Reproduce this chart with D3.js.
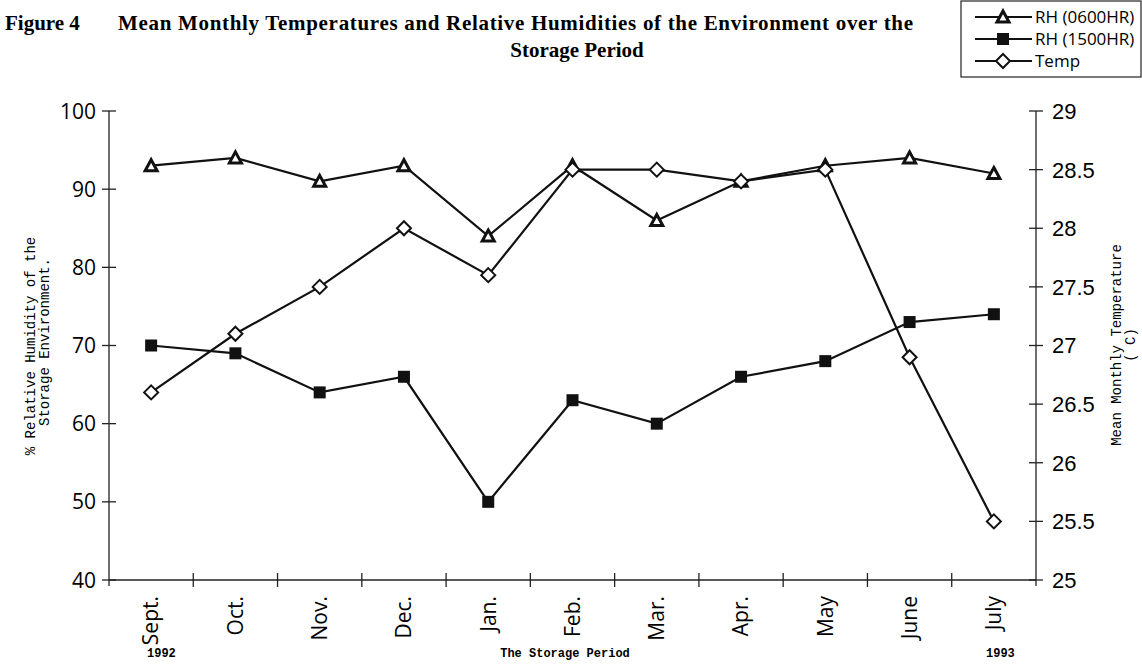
<!DOCTYPE html>
<html>
<head>
<meta charset="utf-8">
<script src="https://cdn.jsdelivr.net/npm/d3@7"></script>
<style>
  body { margin: 0; background: #fff; }
  svg { display: block; }
</style>
</head>
<body>
<div id="chart"></div>
<script>
// chart data
var months = ["Sept.", "Oct.", "Nov.", "Dec.", "Jan.", "Feb.", "Mar.", "Apr.", "May", "June", "July"];
var rh0600 = [93, 94, 91, 93, 84, 93, 86, 91, 93, 94, 92];
var rh1500 = [70, 69, 64, 66, 50, 63, 60, 66, 68, 73, 74];
var temp   = [26.6, 27.1, 27.5, 28.0, 27.6, 28.5, 28.5, 28.4, 28.5, 26.9, 25.5];
var leftTicks  = [40, 50, 60, 70, 80, 90, 100];
var rightTicks = [25, 25.5, 26, 26.5, 27, 27.5, 28, 28.5, 29];
var seriesNames = ["RH (0600HR)", "RH (1500HR)", "Temp"];

var W = 1142, H = 664;
var margin = {top: 111, right: 106, bottom: 84, left: 109};

var svg = d3.select("#chart").append("svg")
  .attr("width", W)
  .attr("height", H);

var x = d3.scaleBand()
  .domain(months)
  .range([margin.left, W - margin.right]);

var yL = d3.scaleLinear()
  .domain([40, 100])
  .range([H - margin.bottom, margin.top]);

var yR = d3.scaleLinear()
  .domain([25, 29])
  .range([H - margin.bottom, margin.top]);

var gothic = "'Open Sans', 'DejaVu Sans', sans-serif";
var x0 = margin.left, x1 = W - margin.right, yb = H - margin.bottom;

// axes lines
var ax = svg.append("g").attr("stroke", "#222").attr("stroke-width", 1.3);
ax.append("line").attr("x1", x0).attr("x2", x0).attr("y1", margin.top).attr("y2", yb + 6);
ax.append("line").attr("x1", x1).attr("x2", x1).attr("y1", margin.top).attr("y2", yb + 6);
ax.append("line").attr("x1", x0).attr("x2", x1).attr("y1", yb).attr("y2", yb);

// left ticks
ax.selectAll(".lt").data(leftTicks).enter().append("line")
  .attr("x1", x0 - 7).attr("x2", x0 + 7)
  .attr("y1", function(d) { return yL(d); })
  .attr("y2", function(d) { return yL(d); });
svg.selectAll(".ll").data(leftTicks).enter().append("text")
  .attr("x", x0 - 13)
  .attr("y", function(d) { return yL(d); })
  .attr("dy", "0.36em")
  .attr("text-anchor", "end")
  .attr("font-family", gothic)
  .attr("font-size", 21)
  .text(function(d) { return d; });

// right ticks
ax.selectAll(".rt").data(rightTicks).enter().append("line")
  .attr("x1", x1 - 7).attr("x2", x1 + 7)
  .attr("y1", function(d) { return yR(d); })
  .attr("y2", function(d) { return yR(d); });
svg.selectAll(".rl").data(rightTicks).enter().append("text")
  .attr("x", x1 + 16)
  .attr("y", function(d) { return yR(d); })
  .attr("dy", "0.36em")
  .attr("font-family", "'Liberation Sans', Arial, sans-serif")
  .attr("font-size", 22)
  .text(function(d) { return d; });

// category ticks on the boundaries
var bounds = months.map(function(m) { return x(m); });
ax.selectAll(".bt").data(bounds.slice(1)).enter().append("line")
  .attr("x1", function(d) { return d; }).attr("x2", function(d) { return d; })
  .attr("y1", yb - 7).attr("y2", yb + 7);

// month labels
svg.selectAll(".ml").data(months).enter().append("text")
  .attr("transform", function(d) {
    return "translate(" + (x(d) + x.bandwidth() / 2) + "," + (yb + 16) + ") rotate(-90)";
  })
  .attr("dy", "0.35em")
  .attr("text-anchor", "end")
  .attr("font-family", gothic)
  .attr("font-size", 21)
  .text(function(d) { return d; });

// lines
function cx(i) { return x(months[i]) + x.bandwidth() / 2; }
var lineL = d3.line().x(function(d, i) { return cx(i); }).y(function(d) { return yL(d); });
var lineR = d3.line().x(function(d, i) { return cx(i); }).y(function(d) { return yR(d); });

[rh0600, rh1500].forEach(function(s) {
  svg.append("path").datum(s).attr("d", lineL)
    .attr("fill", "none").attr("stroke", "#111").attr("stroke-width", 2.2);
});
svg.append("path").datum(temp).attr("d", lineR)
  .attr("fill", "none").attr("stroke", "#111").attr("stroke-width", 2.2);

// markers
function tri(g, cxp, cyp) {
  g.append("path")
    .attr("d", "M" + cxp + "," + (cyp - 6) + "L" + (cxp + 6) + "," + (cyp + 5) + "L" + (cxp - 6) + "," + (cyp + 5) + "Z")
    .attr("fill", "#fff").attr("stroke", "#111").attr("stroke-width", 3)
    .attr("stroke-linejoin", "miter");
}
function sq(g, cxp, cyp) {
  g.append("rect").attr("x", cxp - 6).attr("y", cyp - 6).attr("width", 12).attr("height", 12)
    .attr("fill", "#111");
}
function dia(g, cxp, cyp) {
  g.append("path")
    .attr("d", "M" + cxp + "," + (cyp - 7) + "L" + (cxp + 7) + "," + cyp + "L" + cxp + "," + (cyp + 7) + "L" + (cxp - 7) + "," + cyp + "Z")
    .attr("fill", "#fff").attr("stroke", "#111").attr("stroke-width", 2);
}

var mk = svg.append("g");
rh1500.forEach(function(v, i) { sq(mk, cx(i), yL(v)); });
rh0600.forEach(function(v, i) { tri(mk, cx(i), yL(v)); });
temp.forEach(function(v, i) { dia(mk, cx(i), yR(v)); });

// axis titles
var mono = "'Liberation Mono', 'DejaVu Sans Mono', monospace";
var lt = svg.append("text")
  .attr("transform", "translate(35,346) rotate(-90)")
  .attr("text-anchor", "middle")
  .attr("font-family", mono)
  .attr("font-size", 14);
lt.append("tspan").attr("x", 0).attr("dy", 0).text("% Relative Humidity of the");
lt.append("tspan").attr("x", 4).attr("dy", 14).text("Storage Environment.");

var rt = svg.append("text")
  .attr("transform", "translate(1121,345) rotate(-90)")
  .attr("text-anchor", "middle")
  .attr("font-family", mono)
  .attr("font-size", 14);
rt.append("tspan").attr("x", 0).attr("dy", 0).text("Mean Monthly Temperature");
rt.append("tspan").attr("x", 0).attr("dy", 14).text("( C)");

// bottom notes
svg.append("text").attr("x", 147).attr("y", 657)
  .attr("font-family", mono).attr("font-size", 12).attr("font-weight", "bold").text("1992");
svg.append("text").attr("x", 565).attr("y", 657).attr("text-anchor", "middle")
  .attr("font-family", mono).attr("font-size", 12).attr("font-weight", "bold").text("The Storage Period");
svg.append("text").attr("x", 986).attr("y", 657)
  .attr("font-family", mono).attr("font-size", 12).attr("font-weight", "bold").text("1993");

// title
var serif = "'Liberation Serif', 'Times New Roman', serif";
svg.append("text").attr("x", 5).attr("y", 30)
  .attr("font-family", serif).attr("font-size", 21).attr("font-weight", "bold").text("Figure 4");
svg.append("text").attr("x", 118).attr("y", 30)
  .attr("font-family", serif).attr("font-size", 21).attr("font-weight", "bold")
  .attr("textLength", 795).attr("lengthAdjust", "spacing")
  .text("Mean Monthly Temperatures and Relative Humidities of the Environment over the");
svg.append("text").attr("x", 577).attr("y", 57).attr("text-anchor", "middle")
  .attr("font-family", serif).attr("font-size", 21).attr("font-weight", "bold").text("Storage Period");

// legend
var lg = svg.append("g");
lg.append("rect").attr("x", 961).attr("y", 1).attr("width", 180).attr("height", 76)
  .attr("fill", "#fff").attr("stroke", "#222").attr("stroke-width", 1.2);
var markerFns = [tri, sq, dia];
seriesNames.forEach(function(name, i) {
  var cy = 17 + i * 22;
  lg.append("line").attr("x1", 975).attr("x2", 1032).attr("y1", cy).attr("y2", cy)
    .attr("stroke", "#111").attr("stroke-width", 2.2);
  markerFns[i](lg, 1003, cy);
  lg.append("text").attr("x", 1035).attr("y", cy).attr("dy", "0.36em")
    .attr("font-family", gothic).attr("font-size", 17).text(name);
});
</script>
</body>
</html>
